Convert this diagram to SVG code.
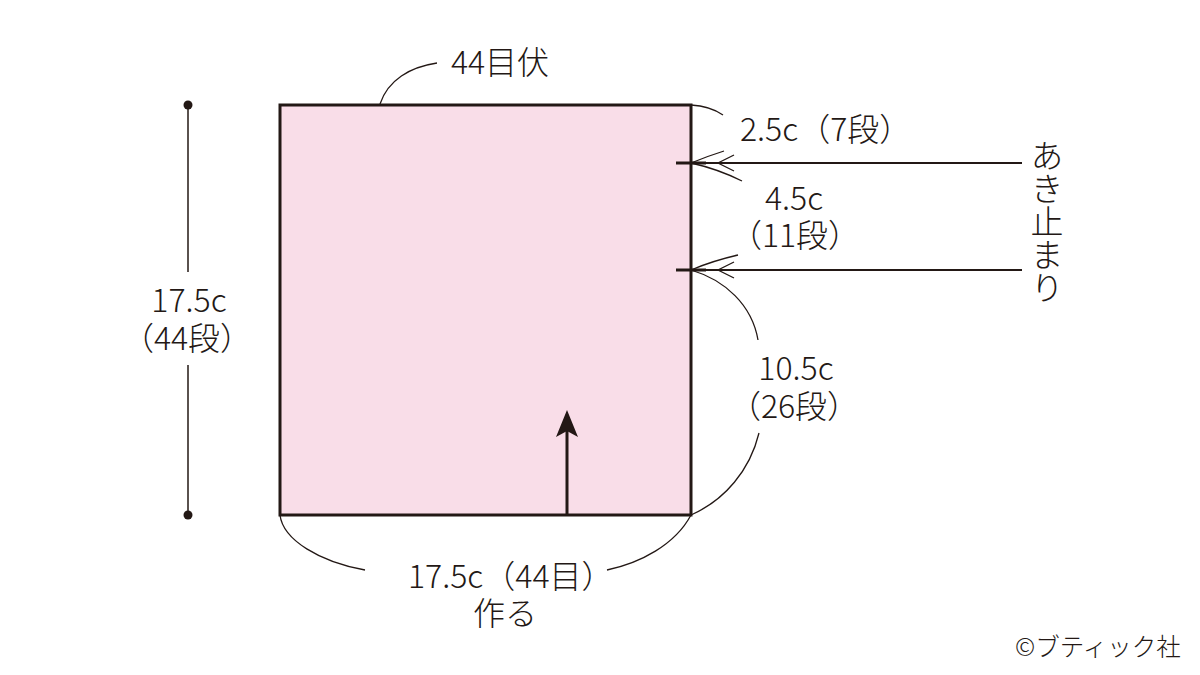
<svg xmlns="http://www.w3.org/2000/svg" width="1200" height="675" viewBox="0 0 1200 675">
<style>
.t{font-family:"Noto Sans CJK JP","Noto Sans",sans-serif;font-size:32px;font-weight:300;fill:#231815}
.m{text-anchor:middle}
.thin{fill:none;stroke:#231815;stroke-width:1.3}
.thick{fill:none;stroke:#231815;stroke-width:3}
</style>
<rect width="1200" height="675" fill="#ffffff"/>
<g id="piece">
<rect x="280" y="105" width="411" height="410" fill="#f9dde8" stroke="#231815" stroke-width="3"/>
<line class="thick" x1="567" y1="515" x2="567" y2="428"/>
<path d="M567,410 L578,437 L567,431 L556,437 Z" fill="#231815"/>
</g>
<g id="connectors">
<line class="thick" x1="676" y1="163" x2="706" y2="163"/>
<line class="thick" x1="676" y1="270" x2="706" y2="270"/>
<line x1="692" y1="163" x2="1022" y2="163" stroke="#231815" stroke-width="2"/>
<line x1="692" y1="270" x2="1022" y2="270" stroke="#231815" stroke-width="2"/>
<path class="thin" d="M734,155 L718,163 L734,171" stroke-width="2"/>
<path class="thin" d="M734,262 L718,270 L734,278" stroke-width="2"/>
<path class="thin" d="M691,105 Q710,106 723,115"/>
<path class="thin" d="M691,163 Q708,156 724,151"/>
<path class="thin" d="M691,163 Q718,169 742,181"/>
<path class="thin" d="M691,270 Q712,261 738,255"/>
<path class="thin" d="M691,270 C725,280 752,305 758,340"/>
<path class="thin" d="M759,433 C750,470 725,500 691,515"/>
<path class="thin" d="M280,515 C283,540 320,562 365,570"/>
<path class="thin" d="M607,570 C640,563 675,545 691,515"/>
<path class="thin" d="M380,104 C388,80 410,67 437,63"/>
<line x1="188" y1="105" x2="188" y2="272" stroke="#231815" stroke-width="1.5"/>
<line x1="188" y1="365" x2="188" y2="515" stroke="#231815" stroke-width="1.5"/>
<circle cx="188" cy="105" r="4.5" fill="#231815"/>
<circle cx="188" cy="515" r="4.5" fill="#231815"/>
</g>
<g id="labels">
<text class="t m" x="500" y="74">44目伏</text>
<text class="t" x="740" y="141">2.5c（7段）</text>
<text class="t m" x="794" y="210">4.5c<tspan x="795" y="247">（11段）</tspan></text>
<text class="t m" x="796" y="380">10.5c<tspan x="794" y="418">（26段）</tspan></text>
<text class="t" x="408" y="588">17.5c（44目）<tspan class="m" x="505" y="625" text-anchor="middle">作る</tspan></text>
<text class="t m" x="189" y="312">17.5c<tspan x="187" y="350">（44段）</tspan></text>
<text class="t" x="1047" y="139" style="font-size:33px;writing-mode:vertical-rl;letter-spacing:0px">あき止まり</text>
<text class="t" x="1015" y="656" style="font-size:24.5px">©ブティック社</text>
</g>
</svg>
